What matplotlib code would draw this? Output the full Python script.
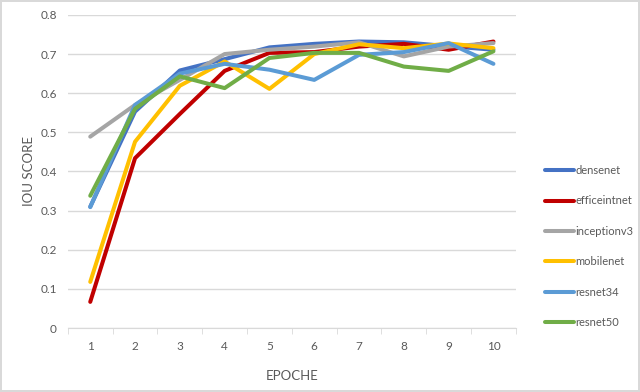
import matplotlib
matplotlib.use('Agg')
from matplotlib import pyplot as plt

epochs = [1, 2, 3, 4, 5, 6, 7, 8, 9, 10]

densenet = [0.31, 0.553, 0.658, 0.687, 0.717, 0.726, 0.732, 0.730, 0.720, 0.711]
efficeintnet = [0.067, 0.434, 0.547, 0.657, 0.703, 0.705, 0.719, 0.726, 0.711, 0.732]
inceptionv3 = [0.489, 0.570, 0.634, 0.700, 0.711, 0.719, 0.730, 0.694, 0.719, 0.728]
mobilenet = [0.118, 0.476, 0.619, 0.681, 0.611, 0.700, 0.725, 0.715, 0.727, 0.715]
resnet34 = [0.309, 0.570, 0.650, 0.675, 0.660, 0.634, 0.698, 0.705, 0.728, 0.675]
resnet50 = [0.338, 0.560, 0.643, 0.613, 0.690, 0.703, 0.703, 0.668, 0.657, 0.707]

names = ['densenet', 'efficeintnet', 'inceptionv3', 'mobilenet', 'resnet34', 'resnet50']
series = [densenet, efficeintnet, inceptionv3, mobilenet, resnet34, resnet50]
colors = ['#4472C4', '#C00000', '#A5A5A5', '#FFC000', '#5B9BD5', '#70AD47']

plt.rcParams['font.family'] = ['Lato', 'DejaVu Sans']
text_col = '#595959'

fig = plt.figure(figsize=(6.4, 3.92), dpi=100)
fig.patch.set_edgecolor('#D9D9D9')
fig.patch.set_linewidth(1.5)
ax = fig.add_axes([0.106, 0.163, 0.700, 0.799])

for name, vals, c in zip(names, series, colors):
    ax.plot(epochs, vals, color=c, lw=2.9, label=name, solid_capstyle='round')

ax.set_xlim(0.5, 10.5)
ax.set_ylim(0, 0.8)
ax.set_yticks([0, 0.1, 0.2, 0.3, 0.4, 0.5, 0.6, 0.7, 0.8])
ax.set_yticklabels(['0', '0.1', '0.2', '0.3', '0.4', '0.5', '0.6', '0.7', '0.8'])
ax.set_xticks(epochs)
ax.set_xticks([x + 0.5 for x in range(0, 11)], minor=True)
ax.grid(axis='y', color='#D9D9D9', lw=1)
ax.set_axisbelow(True)
for s in ['top', 'right', 'left']:
    ax.spines[s].set_visible(False)
ax.spines['bottom'].set_color('#D9D9D9')
ax.tick_params(axis='y', length=0, labelsize=8.5, labelcolor=text_col, pad=8)
ax.tick_params(axis='x', which='major', length=0, labelsize=8.5, labelcolor=text_col, pad=9)
ax.tick_params(axis='x', which='minor', length=4, color='#D9D9D9')

ax.set_xlabel('EPOCHE', fontsize=9.5, color=text_col, labelpad=13)
ax.set_ylabel('IOU SCORE', fontsize=9.5, color=text_col, labelpad=4)

fig.legend(loc='center left', bbox_to_anchor=(0.836, 0.371), frameon=False,
           fontsize=8, labelcolor=text_col, handlelength=2.6, handletextpad=0.1,
           labelspacing=1.75)

fig.savefig('out.png', dpi=100)
